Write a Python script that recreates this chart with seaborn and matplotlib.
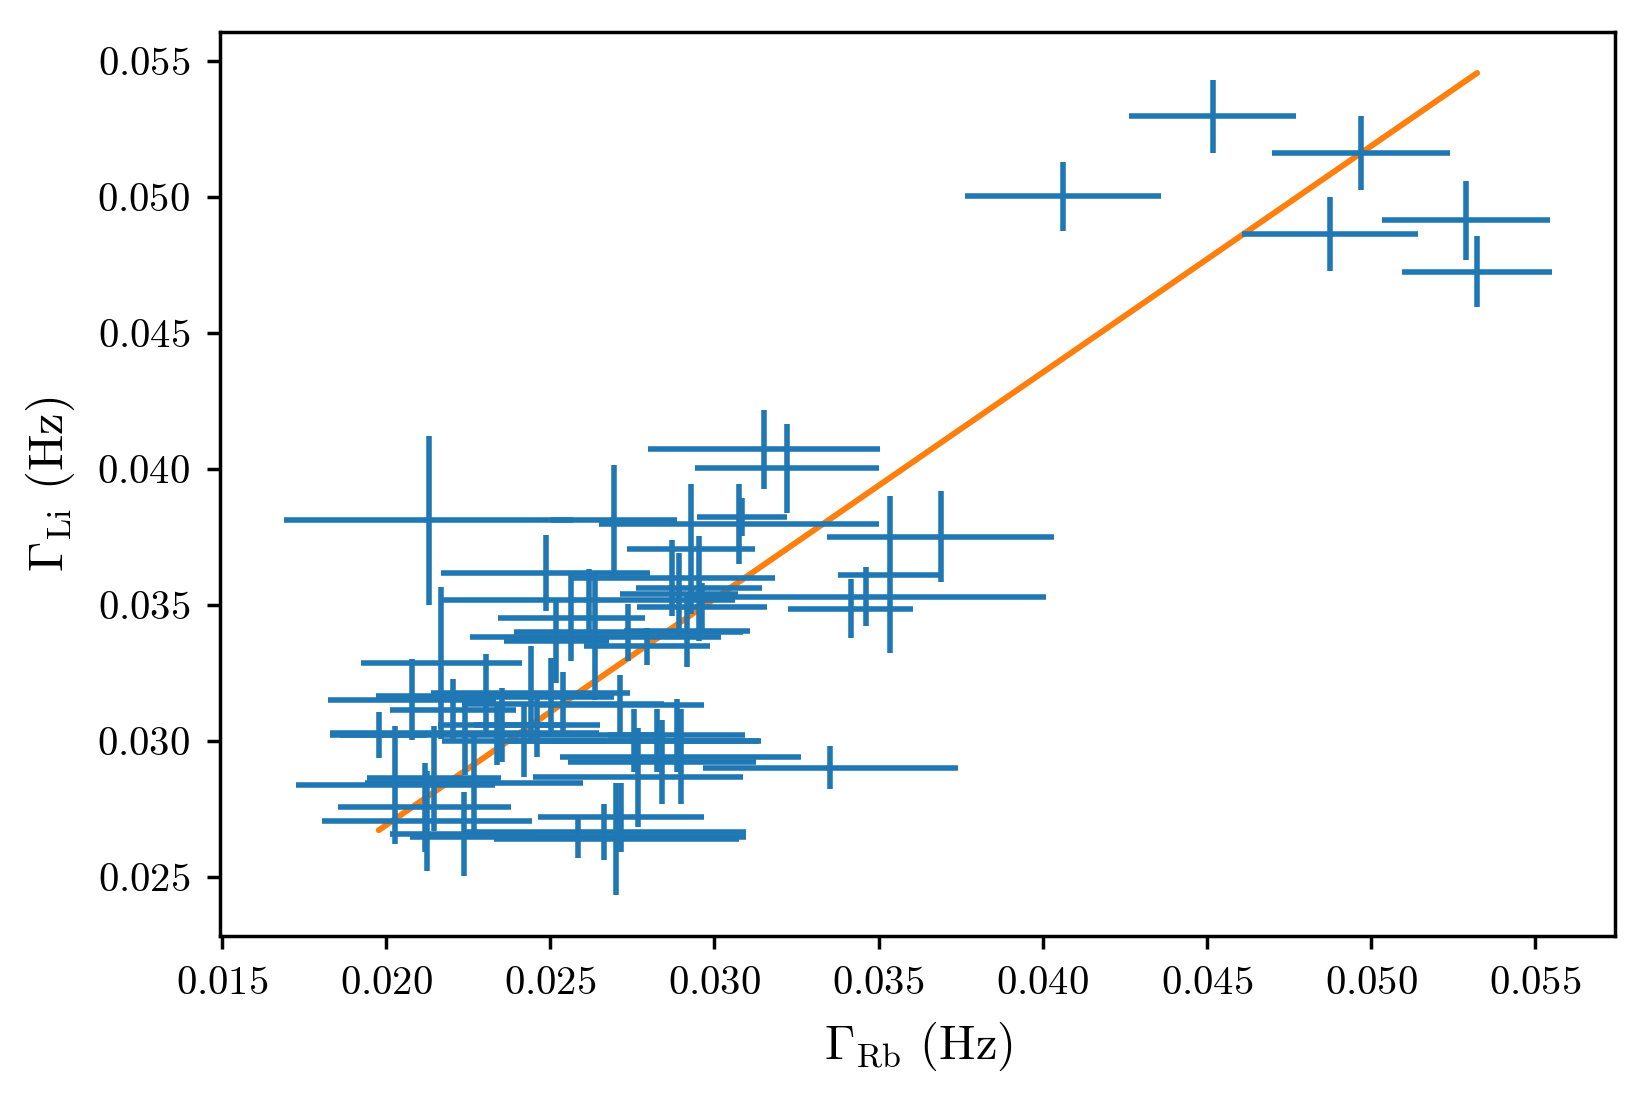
import numpy as np
import seaborn as sns
import matplotlib.pyplot as plt

# decay rates (Hz)
gamma_rb = [0.04518, 0.04969, 0.04061, 0.04876, 0.05288, 0.05323,
            0.03152, 0.03221, 0.02130, 0.02695, 0.03075, 0.03083, 0.03689,
            0.02928, 0.03534, 0.02871, 0.03463, 0.02893, 0.03415, 0.03353,
            0.02962,
            0.01978, 0.02029, 0.02080, 0.02118, 0.02125, 0.02147, 0.02169,
            0.02205, 0.02240, 0.02237, 0.02268, 0.02304, 0.02339, 0.02352,
            0.02419, 0.02441, 0.02460, 0.02486, 0.02617, 0.02502, 0.02519,
            0.02540, 0.02565, 0.02585, 0.02638, 0.02665, 0.02702, 0.02716,
            0.02712, 0.02738, 0.02754, 0.02767, 0.02795, 0.02824, 0.02840,
            0.02885, 0.02898, 0.02917, 0.02952]
gamma_li = [0.05296, 0.05161, 0.05003, 0.04864, 0.04914, 0.04725,
            0.04073, 0.04002, 0.03811, 0.03811, 0.03796, 0.03823, 0.03751,
            0.03707, 0.03611, 0.03599, 0.03531, 0.03541, 0.03487, 0.02901,
            0.03491,
            0.03021, 0.02839, 0.03152, 0.02756, 0.02706, 0.02863, 0.03287,
            0.03113, 0.03028, 0.02658, 0.02847, 0.03167, 0.03021, 0.03059,
            0.03001, 0.03175, 0.03059, 0.03618, 0.03518, 0.03163, 0.03368,
            0.03136, 0.03453, 0.02647, 0.03383, 0.02666, 0.02639, 0.02720,
            0.03132, 0.03399, 0.03001, 0.02866, 0.03348, 0.03001, 0.02924,
            0.03021, 0.02943, 0.03406, 0.03561]
err_rb = [0.00254, 0.00270, 0.00299, 0.00268, 0.00256, 0.00228,
          0.00353, 0.00280, 0.00441, 0.00192, 0.00425, 0.00137, 0.00345,
          0.00195, 0.00157, 0.00313, 0.00546, 0.00179, 0.00190, 0.00388,
          0.00198,
          0.00147, 0.00303, 0.00256, 0.00263, 0.00319, 0.00204, 0.00246,
          0.00192, 0.00409, 0.00224, 0.00332, 0.00335, 0.00479, 0.00192,
          0.00249, 0.00303, 0.00192, 0.00319, 0.00447, 0.00192, 0.00160,
          0.00307, 0.00224, 0.00511, 0.00383, 0.00430, 0.00374, 0.00252,
          0.00256, 0.00348, 0.00383, 0.00319, 0.00192, 0.00319, 0.00287,
          0.00208, 0.00367, 0.00192, 0.00192]
err_li = [0.00133, 0.00137, 0.00127, 0.00137, 0.00145, 0.00131,
          0.00145, 0.00164, 0.00312, 0.00204, 0.00147, 0.00070, 0.00168,
          0.00239, 0.00289, 0.00139, 0.00108, 0.00150, 0.00108, 0.00079,
          0.00089,
          0.00085, 0.00216, 0.00150, 0.00164, 0.00183, 0.00193, 0.00278,
          0.00116, 0.00154, 0.00154, 0.00174, 0.00154, 0.00108, 0.00135,
          0.00135, 0.00174, 0.00116, 0.00139, 0.00116, 0.00143, 0.00154,
          0.00116, 0.00158, 0.00077, 0.00231, 0.00104, 0.00206, 0.00127,
          0.00112, 0.00104, 0.00116, 0.00181, 0.00069, 0.00116, 0.00154,
          0.00135, 0.00174, 0.00135, 0.00193]

# linear fit
fit_slope = 0.8322
fit_intercept = 0.01026

sns.set_style('ticks', {'axes.edgecolor': 'black', 'xtick.color': 'black',
                        'ytick.color': 'black', 'text.color': 'black',
                        'axes.labelcolor': 'black'})
plt.rcParams['font.family'] = 'cmr10'
plt.rcParams['mathtext.fontset'] = 'cm'
plt.rcParams['axes.formatter.use_mathtext'] = True
plt.rcParams['axes.unicode_minus'] = False

fig, ax = plt.subplots(figsize=(6.58, 4.396), dpi=250)
fig.subplots_adjust(left=0.134, right=0.982, top=0.971, bottom=0.148)

x = np.array(gamma_rb)
fit_x = np.array([x.min(), x.max()])
sns.lineplot(x=fit_x, y=fit_slope * fit_x + fit_intercept, color='#ff7f0e',
             linewidth=1.7, ax=ax, zorder=1)
ax.errorbar(gamma_rb, gamma_li, xerr=err_rb, yerr=err_li, fmt='none',
            ecolor='#1f77b4', elinewidth=1.6, zorder=2)

ax.set_xlabel(r'$\Gamma_{\mathrm{Rb}}$ (Hz)', fontsize=14, labelpad=5)
ax.set_ylabel(r'$\Gamma_{\mathrm{Li}}$ (Hz)', fontsize=14, labelpad=6)
ax.tick_params(labelsize=11.7, length=3.8, width=1.0, pad=4.9)
for spine in ax.spines.values():
    spine.set_linewidth(1.0)

fig.savefig('out.png', dpi=250)
